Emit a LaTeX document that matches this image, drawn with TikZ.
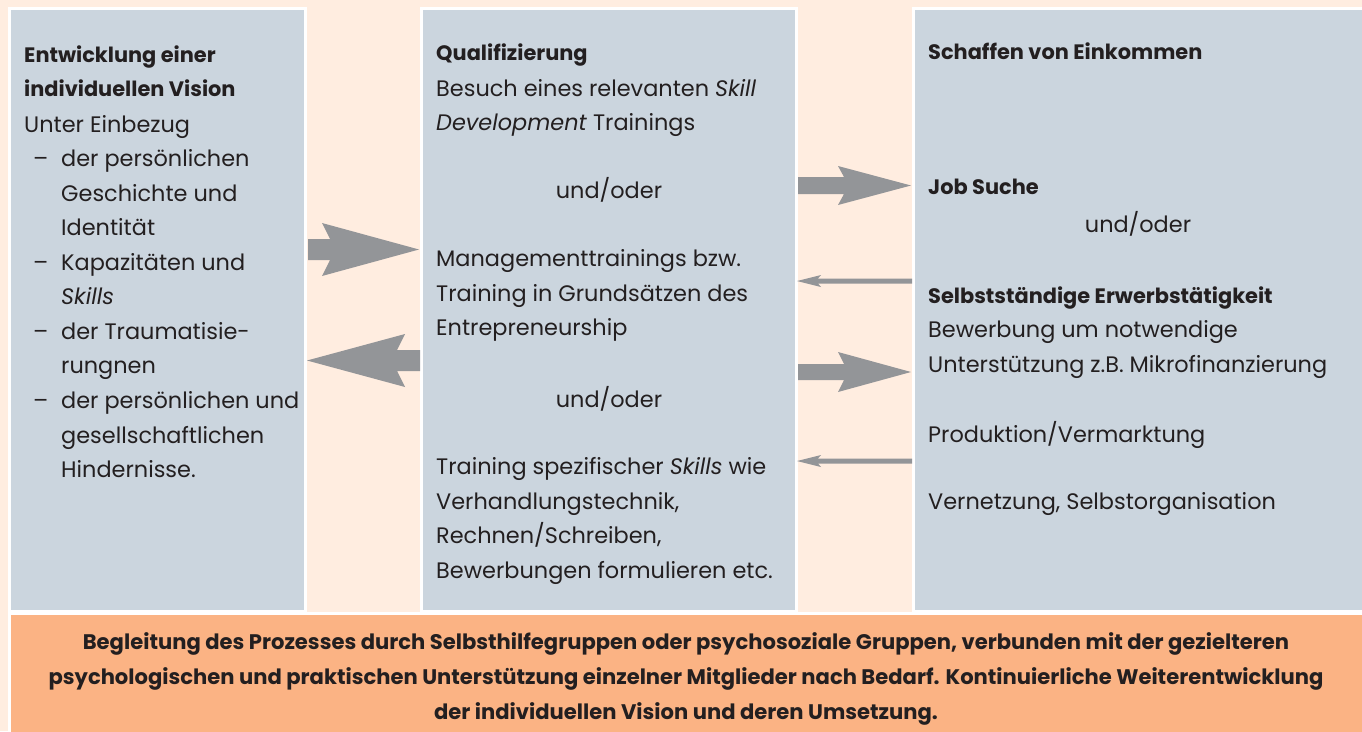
\documentclass[tikz,border=0pt]{standalone}
\usepackage{fontspec}
\setmainfont{Poppins}
\definecolor{peach}{HTML}{FFEDE0}
\definecolor{boxblue}{HTML}{CBD5DE}
\definecolor{boxorange}{HTML}{FBB384}
\definecolor{ink}{HTML}{231F20}
\definecolor{arrowgray}{HTML}{939598}
\tikzset{
  txt/.style={anchor=base west, inner sep=0pt, text=ink, font=\fontsize{22.4}{26}\selectfont},
  ctxt/.style={anchor=base, inner sep=0pt, text=ink, font=\fontsize{22.4}{26}\selectfont},
  btxt/.style={anchor=base west, inner sep=0pt, text=ink, font=\fontsize{20.9}{25}\selectfont\bfseries},
  foot/.style={anchor=base, inner sep=0pt, text=ink, font=\fontsize{21.1}{25}\selectfont\bfseries},
  panel/.style={fill=boxblue, draw=white, line width=3pt},
  bigarrow/.style={fill=arrowgray, draw=none},
}
\begin{document}
\begin{tikzpicture}[x=1pt,y=-1pt]
\useasboundingbox (0,0) rectangle (1362,731);
\fill[peach] (0,0) rectangle (1362,731);
% panels
\path[panel] (9.5,8.5) rectangle (305.5,611.5);
\path[panel] (421.5,8.5) rectangle (796.5,611.5);
\path[panel] (913.5,8.5) rectangle (1370,611.5);
\path[fill=boxorange, draw=white, line width=3pt] (9.5,613.5) rectangle (1370,740);
% left panel
\node[btxt] (l1) at (24,62) {Entwicklung einer};
\node[btxt] (l2) at (24,96) {individuellen Vision};
\node[txt] (l3) at (24,132) {Unter Einbezug};
\node[txt] (d1) at (33,166) {–};
\node[txt] (l4) at (61,166) {der persönlichen};
\node[txt] (l5) at (61,201) {Geschichte und};
\node[txt] (l6) at (61,235) {Identität};
\node[txt] (d2) at (33,270) {–};
\node[txt] (l7) at (61,270) {Kapazitäten und};
\node[txt] (l8) at (61,304) {\itshape Skills};
\node[txt] (d3) at (33,339) {–};
\node[txt] (l9) at (61,339) {der Traumatisie-};
\node[txt] (l10) at (61,373) {rungnen};
\node[txt] (d4) at (33,408) {–};
\node[txt] (l11) at (61,408) {der persönlichen und};
\node[txt] (l12) at (61,443) {gesellschaftlichen};
\node[txt] (l13) at (61,477) {Hindernisse.};
% middle panel
\node[btxt] (m1) at (436,60) {Qualifizierung};
\node[txt] (m2) at (436,96) {Besuch eines relevanten \textit{Skill}};
\node[txt] (m3) at (436,130) {\textit{Development} Trainings};
\node[ctxt] (m4) at (609,198) {und/oder};
\node[txt] (m5) at (436,266) {Managementtrainings bzw.};
\node[txt] (m6) at (436,301) {Training in Grundsätzen des};
\node[txt] (m7) at (436,335) {Entrepreneurship};
\node[ctxt] (m8) at (609,407) {und/oder};
\node[txt] (m9) at (436,474) {Training spezifischer \textit{Skills} wie};
\node[txt] (m10) at (436,509) {Verhandlungstechnik,};
\node[txt] (m11) at (436,543) {Rechnen/Schreiben,};
\node[txt] (m12) at (436,578) {Bewerbungen formulieren etc.};
% right panel
\node[btxt] (r1) at (928,59) {Schaffen von Einkommen};
\node[btxt] (r2) at (928,194) {Job Suche};
\node[ctxt] (r3) at (1138,232) {und/oder};
\node[btxt] (r4) at (928,303) {Selbstständige Erwerbstätigkeit};
\node[txt] (r5) at (928,337) {Bewerbung um notwendige};
\node[txt] (r6) at (928,372) {Unterstützung z.B. Mikrofinanzierung};
\node[txt] (r7) at (928,442) {Produktion/Vermarktung};
\node[txt] (r8) at (928,509) {Vernetzung, Selbstorganisation};
% footer
\node[foot] (f1) at (686,649) {Begleitung des Prozesses durch Selbsthilfegruppen oder psychosoziale Gruppen, verbunden mit der gezielteren};
\node[foot] (f2) at (686,684) {psychologischen und praktischen Unterstützung einzelner Mitglieder nach Bedarf. Kontinuierliche Weiterentwicklung};
\node[foot] (f3) at (686,719) {der individuellen Vision und deren Umsetzung.};
% arrows left gap
\fill[bigarrow] (308,239) -- (330,239) -- (322,223) -- (419,249.5) -- (322,276) -- (330,260) -- (308,260) -- cycle;
\fill[bigarrow] (420,350) -- (397,350) -- (405,334) -- (307,360.5) -- (405,387) -- (397,371) -- (420,371) -- cycle;
% arrows right gap
\fill[bigarrow] (798,177) -- (844,177) -- (838,166) -- (911,185.5) -- (838,205) -- (844,194) -- (798,194) -- cycle;
\fill[bigarrow] (798,364) -- (844,364) -- (838,352) -- (911,372) -- (838,392) -- (844,380) -- (798,380) -- cycle;
\fill[bigarrow] (912,278.5) -- (818,278.5) -- (821,275) -- (797,281) -- (821,287) -- (818,283.5) -- (912,283.5) -- cycle;
\fill[bigarrow] (912,458.5) -- (818,458.5) -- (821,455) -- (797,461) -- (821,467) -- (818,463.5) -- (912,463.5) -- cycle;
\end{tikzpicture}
\end{document}
